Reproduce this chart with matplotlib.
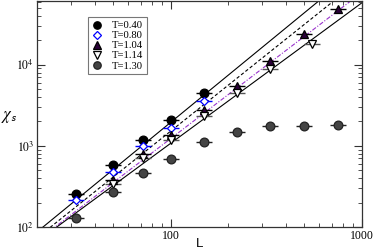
import matplotlib
matplotlib.use("Agg")
import matplotlib.pyplot as plt
import numpy as np
from matplotlib.ticker import LogLocator, NullFormatter, FixedLocator, FixedFormatter

# Data: susceptibility chi_s vs system size L
L_040 = [32, 50, 72, 100, 150]
chi_040 = [254, 588, 1190, 2060, 4500]

L_080 = [32, 50, 72, 100, 150]
chi_080 = [214, 477, 986, 1670, 3550]

L_104 = [50, 72, 100, 150, 222, 333, 500, 750]
chi_104 = [378, 802, 1350, 2800, 5520, 11200, 23800, 48000]

L_114 = [50, 72, 100, 150, 222, 333, 550]
chi_114 = [343, 716, 1166, 2366, 4500, 8850, 18200]

L_130 = [32, 50, 72, 100, 150, 222, 333, 500, 750]
chi_130 = [130, 267, 469, 697, 1110, 1480, 1740, 1780, 1800]

# power-law guide lines chi = A * L**b
fit_A = [0.2686, 0.2636, 0.3083, 0.3724]
fit_b = [1.93, 1.88, 1.80, 1.73]
fit_style = [('-', 'black'), ('--', 'black'), ('-.', '#9933cc'), ('-', 'black')]

serif = 'Liberation Serif'
sans = 'Liberation Sans'
plt.rcParams['mathtext.fontset'] = 'stix'

fig = plt.figure(figsize=(3.74, 2.52), dpi=100)
ax = fig.add_axes([0.099, 0.099, 0.868, 0.897])

Lfit = np.array([20, 1000])
for A, b, (ls, c) in zip(fit_A, fit_b, fit_style):
    line, = ax.plot(Lfit, A * Lfit ** b, ls=ls, color=c, lw=0.8, zorder=1)
    if ls == '--':
        line.set_dashes((3, 2))
    elif ls == '-.':
        line.set_dashes((4, 1.5, 1, 1.5))

series = [
    (L_040, chi_040, 'o', 'black', 'black', 'black', 'T=0.40'),
    (L_080, chi_080, 'D', 'white', 'blue', 'blue', 'T=0.80'),
    (L_104, chi_104, '^', '#2a0038', 'black', 'black', 'T=1.04'),
    (L_114, chi_114, 'v', 'white', 'black', '#555555', 'T=1.14'),
    (L_130, chi_130, 'o', '#444444', '#222222', '#222222', 'T=1.30'),
]
sizes = {'o': 6.3, 'D': 4.3, '^': 6.3, 'v': 6.3}

handles = []
for L, chi, m, fc, ec, bc, lab in series:
    # error-bar caps (errors smaller than symbols)
    ax.plot(L, chi, ls='none', marker='_', ms=11, mew=1.0, color=bc, zorder=2)
    h, = ax.plot(L, chi, ls='none', marker=m, ms=sizes[m], mfc=fc, mec=ec,
                 mew=0.9, zorder=3, label=lab)
    handles.append(h)

ax.set_xscale('log')
ax.set_yscale('log')
ax.set_xlim(20, 1000)
ax.set_ylim(100, 61000)

ax.xaxis.set_major_locator(FixedLocator([100, 1000]))
ax.xaxis.set_major_formatter(FixedFormatter(['100', '1000']))
ax.xaxis.set_minor_locator(LogLocator(base=10, subs=np.arange(2, 10)))
ax.xaxis.set_minor_formatter(NullFormatter())
ax.yaxis.set_major_locator(FixedLocator([100, 1000, 10000]))
ax.yaxis.set_major_formatter(FixedFormatter([r'$10^2$', r'$10^3$', r'$10^4$']))
ax.yaxis.set_minor_locator(LogLocator(base=10, subs=np.arange(2, 10)))
ax.yaxis.set_minor_formatter(NullFormatter())

ax.tick_params(which='both', direction='in', top=True, right=True, color='#333333')
ax.tick_params(which='major', length=6, width=0.8, labelsize=8.5, pad=2)
ax.tick_params(which='minor', length=3, width=0.6)
for lab in ax.get_xticklabels() + ax.get_yticklabels():
    lab.set_fontfamily(serif)
for s in ax.spines.values():
    s.set_color('#333333')
    s.set_linewidth(0.9)

ax.set_xlabel('L', family=sans, fontsize=9.5)
ax.xaxis.set_label_coords(0.502, -0.05)
ax.set_ylabel(r'$\chi_{\mathsf{s}}$', fontsize=12, rotation=0, va='center', ha='center')
ax.yaxis.set_label_coords(-0.085, 0.49)

leg = ax.legend(handles=handles, loc='upper left', bbox_to_anchor=(0.14, 0.952),
                prop={'family': serif, 'size': 7.7}, frameon=True, fancybox=False,
                handlelength=1.0, handletextpad=0.9, labelspacing=0.05,
                borderpad=0.35, markerscale=0.85)
leg.get_frame().set_edgecolor('#555555')
leg.get_frame().set_linewidth(0.8)

fig.savefig('out.png', dpi=100)
